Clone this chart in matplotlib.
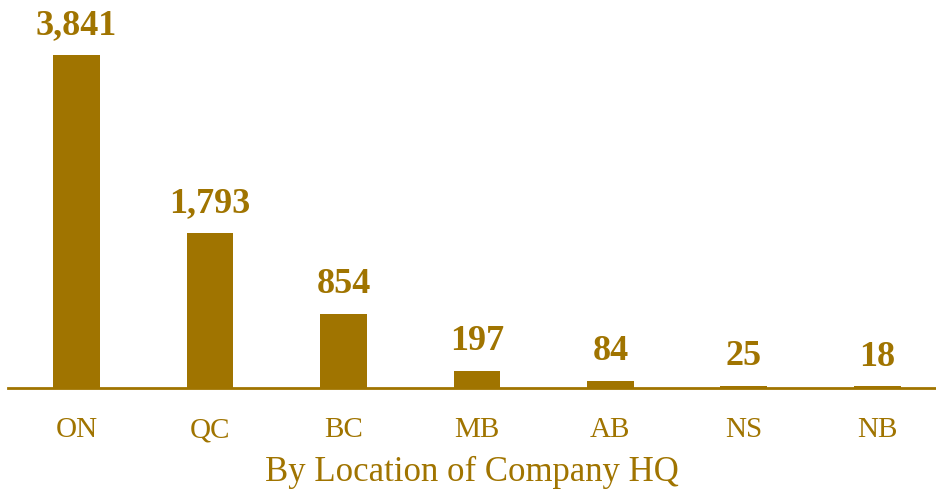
import matplotlib.pyplot as plt

provinces = ["ON", "QC", "BC", "MB", "AB", "NS", "NB"]
counts = [3841, 1793, 854, 197, 84, 25, 18]

gold = "#A07400"
plt.rcParams['font.family'] = ['Liberation Serif', 'DejaVu Serif']

fig = plt.figure(figsize=(9.36, 4.93), dpi=100)
ax = fig.add_axes([8 / 936, 105 / 493, 1 - 8 / 936, 1 - 105 / 493])

x = range(len(provinces))
bars = ax.bar(x, counts, width=0.35, color=gold)

for xi, v in zip(x, counts):
    ax.annotate(f"{v:,}", (xi, v), xytext=(0, 9), textcoords="offset points",
                ha="center", va="bottom", fontsize=26, fontweight="bold", color=gold)

ax.set_xlim(-0.513, 6.44)
ax.set_ylim(0, 4475)
ax.set_xticks(list(x))
ax.set_xticklabels(provinces, fontsize=21, color=gold)
ax.tick_params(axis="x", length=0, pad=21)
ax.set_yticks([])
for side in ["top", "right", "left"]:
    ax.spines[side].set_visible(False)
ax.spines["bottom"].set_color(gold)
ax.spines["bottom"].set_linewidth(2)
ax.set_xlabel("By Location of Company HQ", fontsize=25, color=gold, labelpad=9)

fig.savefig("out.png", dpi=100)
